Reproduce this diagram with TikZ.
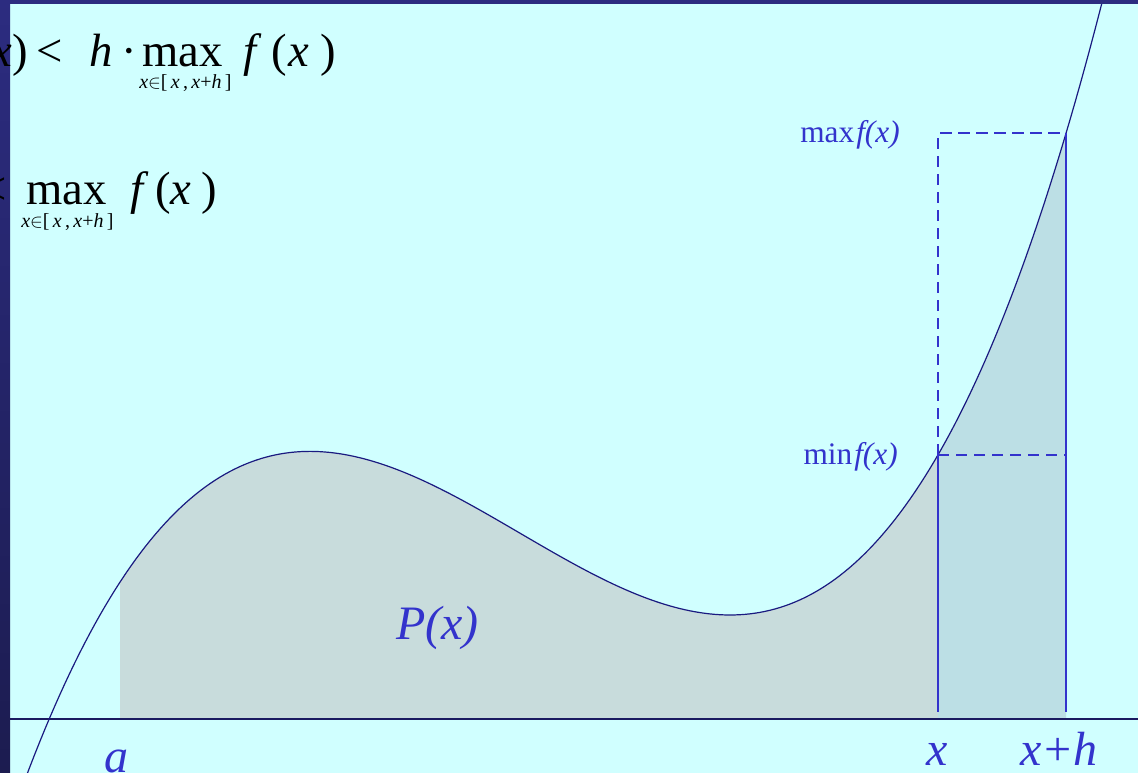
\documentclass[tikz,border=0pt]{standalone}
\usepackage{fontspec}
\setmainfont{Liberation Serif}
\definecolor{bgc}{HTML}{D0FFFF}
\definecolor{grayfill}{HTML}{C8DCDC}
\definecolor{bluefill}{HTML}{BCDFE5}
\definecolor{curvec}{HTML}{1A1A80}
\definecolor{axisc}{HTML}{1A1A60}
\definecolor{lblue}{HTML}{3333CC}
\definecolor{stript}{HTML}{2C2C80}
\definecolor{stripm}{HTML}{3535A2}
\definecolor{stripb}{HTML}{1C1C50}
\begin{document}
\begin{tikzpicture}[x=0.75pt,y=0.75pt,
  declare function={tt(\x)=(\x-730)/100; fc(\x)=158+13.25*(tt(\x)*tt(\x)*tt(\x)/3+2.1*tt(\x)*tt(\x));},
  curve/.style={draw=curvec, line width=0.9pt},
  axisline/.style={draw=axisc, line width=0.8pt},
  solidblue/.style={draw=lblue, line width=2.2pt},
  dashblue/.style={draw=lblue, line width=1.7pt, dash pattern=on 8.5pt off 5pt},
  lab/.style={text=lblue, inner sep=0pt},
  smalllab/.style={lab, font=\fontsize{23.5}{26}\selectfont},
  biglab/.style={lab, font=\fontsize{36}{40}\selectfont\itshape},
  frm/.style={text=black, inner sep=0pt, font=\fontsize{35}{40}\selectfont},
  sub/.style={text=black, inner sep=0pt, font=\fontsize{15}{17}\selectfont}]
\useasboundingbox (0,0) rectangle (1138,773);
\fill[bgc] (0,0) rectangle (1138,773);
% shaded areas
\fill[grayfill] (120,54) -- plot[domain=120:938,samples=120] (\x,{fc(\x)}) -- (938,54) -- cycle;
\fill[bluefill] (938,54) -- plot[domain=938:1066,samples=40] (\x,{fc(\x)}) -- (1066,54) -- cycle;
% axis
\coordinate (axl) at (10,54);
\coordinate (axr) at (1138,54);
\draw[axisline] (axl) -- (axr);
% curve
\begin{scope}
\clip (10,0) rectangle (1138,768);
\draw[curve] plot[domain=15:1110,samples=220] (\x,{fc(\x)});
\end{scope}
% rectangle lines
\coordinate (xbot) at (938,61);
\coordinate (xmin) at (938,{fc(938)});
\coordinate (xmax) at (938,{fc(1066)});
\coordinate (hbot) at (1066,61);
\coordinate (hmin) at (1066,{fc(938)});
\coordinate (hmax) at (1066,{fc(1066)});
\draw[dashblue] (xmin) -- (xmax) -- (hmax);
\draw[dashblue] (xmin) -- (hmin);
\draw[solidblue] (xbot) -- (xmin);
\draw[solidblue] (hbot) -- (hmax);
% labels
\node[smalllab, anchor=base east] (lmax) at (900,630) {max\hspace{1.5pt}\textit{f(x)}};
\node[smalllab, anchor=base east] (lmin) at (898,308) {min\hspace{1.5pt}\textit{f(x)}};
\node[biglab, anchor=base west] (lP) at (396,133) {P(x)};
\node[biglab, anchor=base] (la) at (116,0) {a};
\node[biglab, anchor=base] (lx) at (937,7) {x};
\node[biglab, anchor=base] (lxh) at (1059,7) {x+h};
% frame strips
\shade[top color=stript, middle color=stripm, bottom color=stripb] (0,0) rectangle (10,773);
\fill[stript] (0,768.5) rectangle (1138,773);
% formulas
\node[frm, anchor=base east] (f1a) at (12,706) {\textit{x}};
\node[frm, anchor=base west] (f1b) at (12,706) {)};
\node[frm, anchor=base west] (f1c) at (36,706) {<};
\node[frm, anchor=base west] (f1d) at (89,706) {\textit{h}};
\node[frm, anchor=base west] (f1e) at (121,706) {·};
\node[frm, anchor=base west] (f1f) at (142,706) {max};
\node[frm, anchor=base west] (f1g) at (243,706) {\textit{f}};
\node[frm, anchor=base west] (f1h) at (271,706) {(};
\node[frm, anchor=base west] (f1i) at (288,706) {\textit{x}};
\node[frm, anchor=base west] (f1j) at (320,706) {)};
\node[sub, anchor=base west] (f1s) at (139,684) {\textit{x}$\in$[\,\textit{x}\,,\,\textit{x}+\textit{h}\,]};
\node[frm, anchor=base east] (f2a) at (7,568) {<};
\node[frm, anchor=base west] (f2b) at (26,568) {max};
\node[frm, anchor=base west] (f2c) at (130,568) {\textit{f}};
\node[frm, anchor=base west] (f2d) at (155,568) {(};
\node[frm, anchor=base west] (f2e) at (170,568) {\textit{x}};
\node[frm, anchor=base west] (f2f) at (201,568) {)};
\node[sub, anchor=base west] (f2s) at (21,545) {\textit{x}$\in$[\,\textit{x}\,,\,\textit{x}+\textit{h}\,]};
\end{tikzpicture}
\end{document}
